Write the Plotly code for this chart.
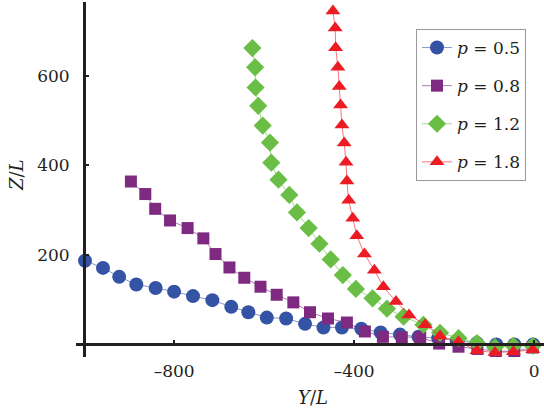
import plotly.graph_objects as go

# ---- data ----
y_p05 = [-998, -958, -922, -884, -841, -800, -758, -715, -673, -635, -594, -551, -509,
         -468, -427, -384, -341, -298, -257, -213, -172, -127, -84, -44, -2]
z_p05 = [187, 171, 151, 134, 126, 118, 108, 99, 84, 72, 60, 58, 46,
         38, 38, 35, 27, 22, 17, 14, 8, 3, 0, 0, 0]

y_p08 = [-896, -864, -842, -809, -770, -735, -708, -677, -644, -608, -572, -535, -498,
         -458, -416, -376, -336, -294, -253, -211, -168, -126, -85, -44, -3]
z_p08 = [364, 336, 303, 277, 260, 237, 202, 172, 149, 129, 111, 94, 72,
         58, 49, 29, 17, 16, 16, 2, -5, -10, -15, -15, -7]

y_p12 = [-626, -620, -619, -613, -603, -587, -584, -568, -544, -527, -501, -477, -452,
         -425, -396, -359, -327, -290, -246, -209, -168, -127, -87, -46, -3]
z_p12 = [662, 619, 574, 533, 489, 451, 406, 368, 334, 295, 260, 225, 190,
         155, 124, 103, 80, 62, 44, 26, 14, 3, -6, -3, -3]

y_p18 = [-447, -442, -441, -436, -433, -430, -427, -422, -418, -416, -412, -403, -394,
         -377, -355, -335, -307, -278, -242, -209, -168, -127, -87, -46, -3]
z_p18 = [745, 707, 663, 619, 576, 535, 490, 450, 407, 365, 322, 282, 243,
         202, 166, 129, 96, 66, 44, 19, 6, -14, -18, -16, -12]

series_names = ["<i>p</i> = 0.5", "<i>p</i> = 0.8", "<i>p</i> = 1.2", "<i>p</i> = 1.8"]
x_tickvals = [-800, -400, 0]
x_ticktext = ["\u2013800", "\u2013400", "0"]
y_tickvals = [200, 400, 600]
y_ticktext = ["200", "400", "600"]

series = [
    (y_p05, z_p05, "circle", 14, "#3553A4", "rgba(53,83,164,0.6)"),
    (y_p08, z_p08, "square", 12, "#7D2A80", "rgba(125,42,128,0.6)"),
    (y_p12, z_p12, "diamond", 14, "#6ABD45", "rgba(106,189,69,0.6)"),
    (y_p18, z_p18, "triangle-up", 13, "#ED1C24", "rgba(237,28,36,0.6)"),
]

FONT = "DejaVu Serif"
TXT = "#231F20"

fig = go.Figure()
for i, (xs, ys, sym, size, col, lcol) in enumerate(series):
    fig.add_trace(go.Scatter(
        x=xs, y=ys, mode="lines+markers", name=series_names[i],
        legendgroup=f"g{i}",
        line=dict(color=lcol, width=1),
        marker=dict(symbol=sym, size=size, color=col, line=dict(width=0)),
    ))

X0, X1 = -1018, 22
Y0, Y1 = -28, 765

fig.update_layout(
    width=544, height=412,
    margin=dict(l=76, r=0, t=2, b=55, autoexpand=False),
    paper_bgcolor="white", plot_bgcolor="white",
    font=dict(family=FONT, size=17, color=TXT),
    showlegend=True,
    legend=dict(
        x=(416 - 76) / 468, y=(357 - 29) / 355, xanchor="left", yanchor="top",
        bordercolor="#9a9a9a", borderwidth=1, bgcolor="white",
        font=dict(family=FONT, size=17, color=TXT),
        tracegroupgap=13, itemwidth=30,
    ),
    xaxis=dict(
        range=[X0, X1], showgrid=False, zeroline=False, automargin=False,
        showline=True, linecolor="#231F20", linewidth=3,
        anchor="free", position=(0 - Y0) / (Y1 - Y0),
        tickmode="array", tickvals=x_tickvals, ticktext=x_ticktext,
        ticks="inside", ticklen=3, tickwidth=2, tickcolor="#231F20",
        ticklabelstandoff=10,
        tickfont=dict(family=FONT, size=17, color=TXT),
    ),
    yaxis=dict(
        range=[Y0, Y1], showgrid=False, zeroline=False, automargin=False,
        showline=True, linecolor="#231F20", linewidth=3,
        anchor="free", position=(-1000 - X0) / (X1 - X0),
        tickmode="array", tickvals=y_tickvals, ticktext=y_ticktext,
        ticks="inside", ticklen=3, tickwidth=2, tickcolor="#231F20",
        ticklabelstandoff=10,
        tickfont=dict(family=FONT, size=17, color=TXT),
    ),
    annotations=[
        dict(text="<i>Y</i>/<i>L</i>", xref="paper", yref="paper",
             x=(313 - 76) / 468, y=(357 - 397) / 355, xanchor="center", yanchor="middle",
             showarrow=False, font=dict(family=FONT, size=18, color=TXT)),
        dict(text="<i>Z</i>/<i>L</i>", xref="paper", yref="paper",
             x=(16 - 76) / 468, y=(357 - 175) / 355, xanchor="center", yanchor="middle",
             showarrow=False, textangle=-90,
             font=dict(family=FONT, size=18, color=TXT)),
    ],
)

fig.write_html("out.html", config={"displayModeBar": False},
               post_script="document.body.style.margin='0';")
